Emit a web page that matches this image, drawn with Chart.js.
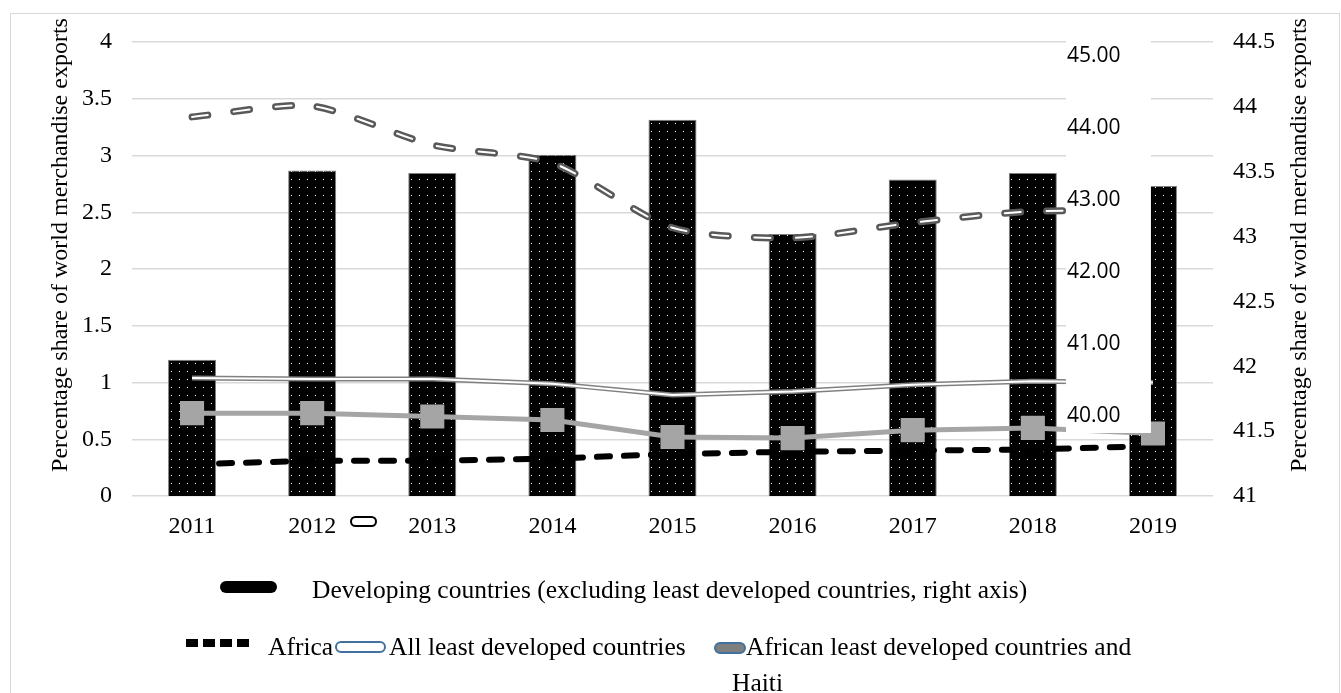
<!DOCTYPE html>
<html>
<head>
<meta charset="utf-8">
<script src="https://cdn.jsdelivr.net/npm/chart.js@4.4.1/dist/chart.umd.min.js"></script>
<style>
  html, body { margin: 0; padding: 0; background: #fff; }
  #wrap { position: relative; width: 1341px; height: 693px; overflow: hidden; font-family: 'Liberation Serif', 'Times New Roman', serif; color: #000; }
  #frame { position: absolute; left: 10px; top: 13px; width: 1330px; height: 700px; border: 1.5px solid #d9d9d9; box-sizing: border-box; }
  #chart { position: absolute; left: 0; top: 0; }
  .lg { position: absolute; font-size: 25.5px; line-height: 28px; white-space: nowrap; }
  .pill { position: absolute; box-sizing: border-box; border-radius: 7px; }
  .dash { position: absolute; width: 12px; height: 8px; background: #000; }
</style>
</head>
<body>
<div id="wrap">
  <div id="frame"></div>
  <canvas id="chart" width="1341" height="693"></canvas>

  <!-- stray marker next to the x labels -->
  <div class="pill" style="left:350px; top:516px; width:27px; height:11px; border:2px solid #000; background:#fff;"></div>

  <!-- legend -->
  <div class="pill" style="left:220px; top:581px; width:57px; height:12px; background:#000;"></div>
  <div class="lg" style="left:312px; top:576px;">Developing countries (excluding least developed countries, right axis)</div>

  <div class="dash" style="left:186px; top:639px;"></div>
  <div class="dash" style="left:203px; top:639px;"></div>
  <div class="dash" style="left:220px; top:639px;"></div>
  <div class="dash" style="left:237px; top:639px;"></div>
  <div class="lg" style="left:268px; top:633px;">Africa</div>
  <div class="pill" style="left:335px; top:641px; width:51px; height:12px; border:2px solid #41719c; background:#fff;"></div>
  <div class="lg" style="left:389px; top:633px;">All least developed countries</div>
  <div class="pill" style="left:714px; top:642px; width:32px; height:12px; border:2px solid #41719c; background:#7f7f7f;"></div>
  <div class="lg" style="left:746px; top:633px;">African least developed countries and</div>
  <div class="lg" style="left:732px; top:669px;">Haiti</div>
</div>

<script>
// values
const years = ['2011', '2012', '2013', '2014', '2015', '2016', '2017', '2018', '2019'];
const developingBars = [42.05, 43.51, 43.49, 43.63, 43.90, 43.02, 43.44, 43.49, 43.39];   // right axis
const developingLine = [44.14, 44.29, 43.75, 43.50, 42.60, 42.46, 42.67, 42.83, 42.81];   // middle axis
const africa = [0.28, 0.31, 0.31, 0.33, 0.37, 0.39, 0.40, 0.41, 0.44];
const allLdc = [1.04, 1.03, 1.03, 0.99, 0.89, 0.92, 0.98, 1.01, 1.00];
const africanLdcHaiti = [0.73, 0.73, 0.70, 0.67, 0.52, 0.51, 0.58, 0.60, 0.55];
const middleTicks = [40, 41, 42, 43, 44, 45];

const axisTitle = 'Percentage share of world merchandise exports';
const SERIF = "'Liberation Serif', 'Times New Roman', serif";

const canvas = document.getElementById('chart');

function dotPattern() {
  const tile = document.createElement('canvas');
  tile.width = 8; tile.height = 8;
  const g = tile.getContext('2d');
  g.fillStyle = '#000'; g.fillRect(0, 0, 8, 8);
  g.fillStyle = '#fff'; g.fillRect(3, 3, 1, 1);
  return canvas.getContext('2d').createPattern(tile, 'repeat');
}

const tickFont = { family: SERIF, size: 24 };
const plainNum = v => String(Math.round(v * 10) / 10);

// white box with the stray 40.00-45.00 axis, plus both axis titles
const overlay = {
  id: 'overlay',
  afterDatasetsDraw(chart) {
    const { ctx, chartArea, scales: { x, y3 } } = chart;
    const cx = x.getPixelForValue(years.length - 1);
    const left = cx - 87, right = cx - 2;
    const top = chartArea.top - 17;
    const bottom = y3.getPixelForValue(middleTicks[0]) + 18;
    ctx.save();
    ctx.fillStyle = '#fff';
    ctx.fillRect(left, top, right - left, bottom - top);
    ctx.fillStyle = '#000';
    ctx.font = "21px 'Open Sans', sans-serif";
    ctx.textAlign = 'left';
    ctx.textBaseline = 'middle';
    middleTicks.forEach(v => ctx.fillText(v.toFixed(2), left + 1, y3.getPixelForValue(v) + 1));

    ctx.font = '24px ' + SERIF;
    ctx.textAlign = 'center';
    [61, 1300].forEach(tx => {
      ctx.save();
      ctx.translate(tx, 245);
      ctx.rotate(-Math.PI / 2);
      ctx.fillText(axisTitle, 0, 0);
      ctx.restore();
    });
    ctx.restore();
  }
};

new Chart(canvas, {
  data: {
    labels: years,
    datasets: [
      {
        type: 'bar', label: 'Developing countries (excluding least developed countries, right axis)',
        data: developingBars, yAxisID: 'y1',
        backgroundColor: dotPattern(), borderColor: '#7f7f7f', borderWidth: 1,
        barPercentage: 0.4, categoryPercentage: 1, order: 10
      },
      {
        type: 'line', label: 'Developing countries', data: developingLine, yAxisID: 'y3',
        borderColor: '#595959', borderWidth: 7, borderDash: [16, 26], borderCapStyle: 'round',
        pointRadius: 0, tension: 0.25, order: 6
      },
      {
        type: 'line', label: 'Developing countries inner', data: developingLine, yAxisID: 'y3',
        borderColor: '#fff', borderWidth: 2, borderDash: [16, 26], borderCapStyle: 'round',
        pointRadius: 0, tension: 0.25, order: 5
      },
      {
        type: 'line', label: 'Africa', data: africa, yAxisID: 'y',
        borderColor: '#000', borderWidth: 6, borderDash: [13, 14], borderCapStyle: 'round',
        pointRadius: 0, order: 4
      },
      {
        type: 'line', label: 'All least developed countries', data: allLdc, yAxisID: 'y',
        borderColor: '#808080', borderWidth: 5, pointRadius: 0, order: 3
      },
      {
        type: 'line', label: 'All least developed countries inner', data: allLdc, yAxisID: 'y',
        borderColor: '#fff', borderWidth: 2, pointRadius: 0, order: 2
      },
      {
        type: 'line', label: 'African least developed countries and Haiti', data: africanLdcHaiti, yAxisID: 'y',
        borderColor: '#a5a5a5', borderWidth: 5,
        pointStyle: 'rect', pointRadius: 13.5, pointBackgroundColor: '#a5a5a5', pointBorderColor: '#a5a5a5',
        order: 1
      }
    ]
  },
  options: {
    responsive: false, animation: false,
    layout: { padding: { left: 0, right: 0, top: 42, bottom: 137 } },
    plugins: { legend: { display: false }, tooltip: { enabled: false } },
    scales: {
      x: {
        grid: { display: false }, border: { display: false },
        ticks: { color: '#000', font: tickFont, padding: 8, maxRotation: 0 },
        afterFit: s => { s.height = 60; }
      },
      y: {
        position: 'left', min: 0, max: 4,
        ticks: { stepSize: 0.5, color: '#000', font: tickFont, padding: 20, callback: plainNum },
        grid: { color: '#d9d9d9', lineWidth: 1.5, drawTicks: false }, border: { display: false },
        afterFit: s => { s.width = 132; }
      },
      y1: {
        position: 'right', min: 41, max: 44.5,
        ticks: { stepSize: 0.5, color: '#000', font: tickFont, padding: 20, callback: plainNum },
        grid: { display: false, drawTicks: false }, border: { display: false },
        afterFit: s => { s.width = 128; }
      },
      y3: { display: false, position: 'right', min: 38.875, max: 45.18 }
    }
  },
  plugins: [overlay]
});
</script>
</body>
</html>
